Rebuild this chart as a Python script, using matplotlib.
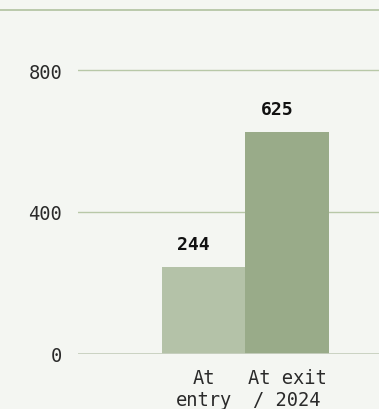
import numpy as np
import matplotlib.pyplot as plt
from matplotlib.lines import Line2D

categories = ['At\nentry', 'At exit\n/ 2024']
values = [244, 625]
bar_colors = ['#b4c2a8', '#99ab89']
yticks = [0, 400, 800]

plt.rcParams['font.family'] = ['DejaVu Sans Mono']

W, H = 379, 410
fig = plt.figure(figsize=(W / 100, H / 100), dpi=100, facecolor='#f4f6f2')
# axes placed in pixel terms
left, right, top, bottom = 78, 379, 10, 355
ax = fig.add_axes([left / W, 1 - bottom / H, (right - left) / W, (bottom - top) / H])
ax.set_facecolor('#f4f6f2')

x = np.arange(len(values))
ax.bar(x, values, width=1.0, color=bar_colors, zorder=3)

for xi, v in zip(x, values):
    ax.annotate(str(v), (xi, v), xytext=(-7, 10), textcoords='offset points',
                ha='center', va='bottom', fontsize=13, fontweight='bold', color='#111111')

ax.set_xlim(-1.503, -1.503 + (right - left) / 83.5)
ax.set_ylim(0, (bottom - top) / 0.355)
ax.set_yticks(yticks)
ax.set_xticks(x)
ax.set_xticklabels(categories)

ax.grid(axis='y', color='#b8c8a8', linewidth=1, zorder=0)
ax.axhline(0, color='#c8d0c0', linewidth=2, zorder=4)
for s in ax.spines.values():
    s.set_visible(False)
ax.tick_params(axis='both', length=0, labelsize=13.5, colors='#2a2a2a')
ax.tick_params(axis='y', pad=11.5)
ax.tick_params(axis='x', pad=10)
for t in ax.get_xticklabels():
    t.set_linespacing(1.2)

# thin rule across the top of the figure
y_top = 1 - 10.5 / H
fig.add_artist(Line2D([0, 1], [y_top, y_top], transform=fig.transFigure,
                      color='#b0c2a0', linewidth=1.2))

fig.savefig('out.png', dpi=100, facecolor=fig.get_facecolor())
